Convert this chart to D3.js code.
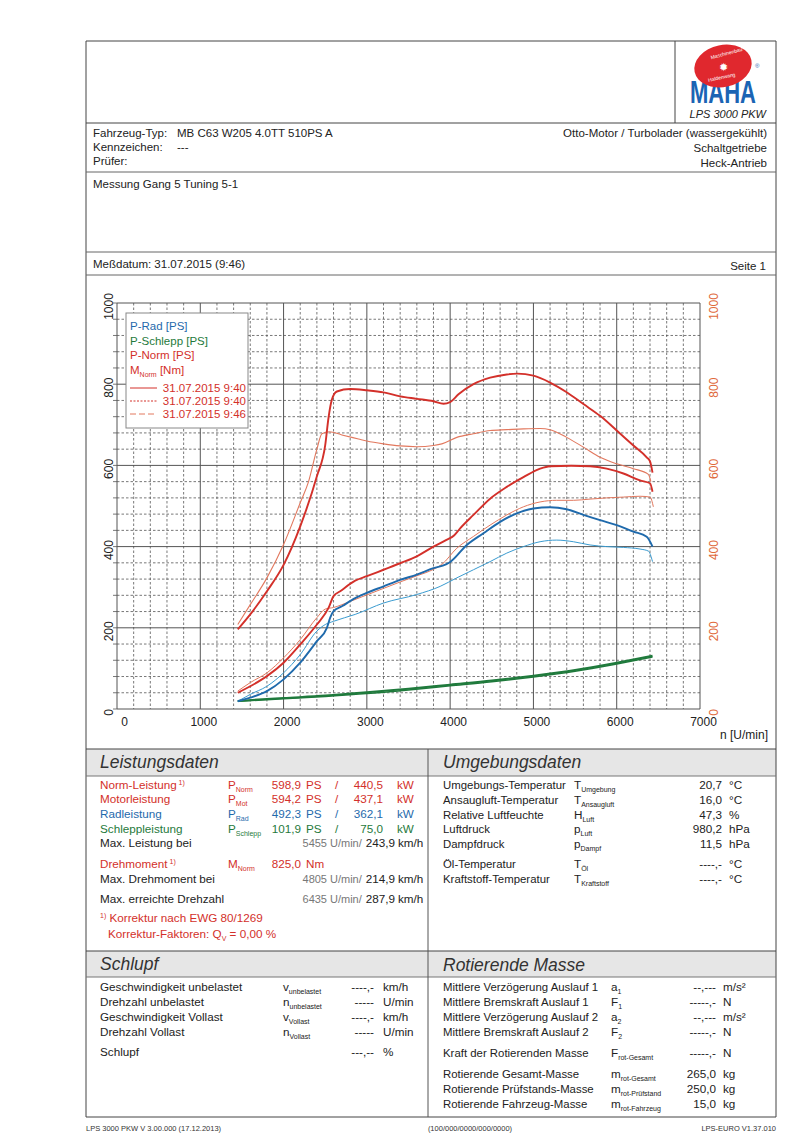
<!DOCTYPE html>
<html><head><meta charset="utf-8">
<script src="https://cdn.jsdelivr.net/npm/d3@7/dist/d3.min.js"></script>
<style>
html,body{margin:0;padding:0;background:#fff;}
svg{display:block;font-family:"Liberation Sans",Arial,sans-serif;}
</style></head>
<body>
<svg id="page" width="800" height="1141"></svg>
<script>
// ---------------- DATA ----------------
const rpmTicks = [0,1000,2000,3000,4000,5000,6000,7000];
const valTicks = [0,200,400,600,800,1000];

// Measurement 1 (solid, thick)
const mNorm1 = [[1450,196],[1600,233],[1800,290],[2000,355],[2200,450],[2400,573],[2500,650],[2540,718],[2580,762],[2640,782],[2800,788],[3000,785],[3200,780],[3400,770],[3600,764],[3800,758],[3920,752],[4000,756],[4100,775],[4280,800],[4480,816],[4680,824],[4805,826],[5000,821],[5200,804],[5400,780],[5600,751],[5800,722],[6000,686],[6200,649],[6360,620],[6400,610],[6430,582]];
const pNorm1 = [[1450,40],[1600,56],[1800,81],[2000,114],[2200,159],[2400,208],[2540,249],[2600,278],[2680,290],[2860,316],[3000,327],[3200,343],[3400,359],[3600,376],[3800,400],[3950,416],[4050,428],[4120,445],[4280,478],[4480,518],[4680,547],[4880,571],[5080,592],[5200,598],[5455,599],[5680,598],[5880,592],[6080,580],[6280,563],[6400,556],[6430,535]];
const pRad1 = [[1450,19],[1600,28],[1800,44],[2000,73],[2200,114],[2400,167],[2520,200],[2560,225],[2600,241],[2700,253],[2860,273],[3000,286],[3200,302],[3400,318],[3600,331],[3800,347],[3950,356],[4000,362],[4200,404],[4400,433],[4600,461],[4800,482],[5000,494],[5200,497],[5400,492],[5600,478],[5800,465],[6000,453],[6200,437],[6360,424],[6430,400]];
const pSchlepp1 = [[1450,20],[2000,27],[2500,33],[3000,41],[3500,50],[4000,60],[4500,70],[5000,82],[5500,96],[6000,114],[6430,131]];

// Measurement 2 (thin, lighter)
const mNorm2 = [[1450,208],[1600,257],[1800,323],[2000,405],[2200,508],[2300,560],[2400,640],[2460,678],[2550,683],[2700,675],[2900,665],[3000,660],[3200,653],[3400,648],[3600,646],[3800,649],[3900,653],[4080,669],[4280,678],[4480,686],[4680,688],[4880,690],[5080,691],[5200,688],[5400,669],[5600,645],[5800,620],[6000,604],[6200,592],[6380,578],[6410,560]];
const pNorm2 = [[1450,44],[1600,65],[1800,89],[2000,126],[2200,171],[2400,225],[2500,246],[2600,250],[2800,265],[3000,281],[3200,297],[3400,313],[3600,328],[3800,344],[3900,356],[4080,396],[4280,425],[4480,453],[4680,478],[4880,498],[5080,510],[5280,514],[5480,514],[5680,517],[5880,520],[6080,522],[6280,524],[6400,522],[6440,498]];
const pRad2 = [[1450,19],[1600,36],[1800,56],[2000,89],[2200,134],[2400,192],[2500,208],[2600,216],[2860,233],[3200,261],[3600,282],[3880,302],[4080,323],[4280,343],[4480,363],[4680,384],[4880,400],[5080,412],[5280,416],[5480,412],[5680,404],[5880,400],[6080,398],[6280,394],[6380,389],[6430,363]];
const pSchlepp2 = [[1450,19],[2000,25],[2500,31],[3000,38],[3500,47],[4000,57],[4500,67],[5000,79],[5500,93],[6000,111],[6430,128]];

const legendNames = ["P-Rad [PS]","P-Schlepp [PS]","P-Norm [PS]","M"];
const legendDates = ["31.07.2015 9:40","31.07.2015 9:40","31.07.2015 9:46"];

// ---------------- DRAW ----------------
const svg = d3.select("#page");
const RED="#d3302a", LRED="#e2785e", BLUE="#1f6aac", LBLUE="#3a9bd0", GREEN="#1f7a3c", GRAY="#777", ORANGE="#e0683a";
const LINE="#444";
const FS=11.7;

function hline(y,x1=86,x2=776,c=LINE,w=1){svg.append("line").attr("x1",x1).attr("x2",x2).attr("y1",y).attr("y2",y).attr("stroke",c).attr("stroke-width",w);}
function vline(x,y1,y2,c=LINE,w=1){svg.append("line").attr("x1",x).attr("x2",x).attr("y1",y1).attr("y2",y2).attr("stroke",c).attr("stroke-width",w);}
function txt(x,y,s,o={}){
  const t=svg.append("text").attr("x",x).attr("y",y).text(s)
   .attr("font-size",o.size||FS).attr("fill",o.color||"#222")
   .attr("text-anchor",o.anchor||"start");
  if(o.italic) t.attr("font-style","italic");
  if(o.weight) t.attr("font-weight",o.weight);
  return t;
}
function sym(x,y,main,sub,color="#222",size=FS){
  const t=svg.append("text").attr("x",x).attr("y",y).attr("font-size",size).attr("fill",color);
  t.append("tspan").text(main);
  if(sub) t.append("tspan").attr("font-size",7).attr("dy",3).text(sub);
  return t;
}

// header bands
svg.append("rect").attr("x",86).attr("y",749).attr("width",690).attr("height",27).attr("fill","#e6e6e6");
svg.append("rect").attr("x",86).attr("y",951).attr("width",690).attr("height",26).attr("fill","#e6e6e6");

// frame
hline(41); vline(86,41,1117); vline(776,41,1117);
vline(675,41,123);
hline(123); hline(172,86,776,"#666"); hline(252,86,776,"#666"); hline(275,86,776,"#666");
hline(749,86,776,"#444",1.2); hline(776,86,776,"#777");
hline(951,86,776,"#444",1.2); hline(977,86,776,"#777");
hline(1117);
vline(428,749,1117,"#555");

// logo
const logo=svg.append("g");
logo.append("text").attr("x",723).attr("y",103).attr("text-anchor","middle")
  .attr("font-size",31).attr("font-weight","bold").attr("fill","#1b64b4")
  .attr("font-family","'Liberation Sans Narrow','Liberation Sans',Arial,sans-serif")
  .attr("textLength",66).attr("lengthAdjust","spacingAndGlyphs").text("MAHA");
logo.append("ellipse").attr("cx",723).attr("cy",66).attr("rx",29).attr("ry",21)
  .attr("transform","rotate(-12,723,66)").attr("fill","#e0282e");
logo.append("text").attr("x",723).attr("y",71).attr("text-anchor","middle").attr("font-size",11).attr("fill","#fff").text("✹");
logo.append("text").attr("x",727).attr("y",55).attr("text-anchor","middle").attr("font-size",5).attr("fill","#fff")
  .attr("transform","rotate(-15,727,55)").text("Maschinenbau");
logo.append("text").attr("x",722).attr("y",79).attr("text-anchor","middle").attr("font-size",5).attr("fill","#fff")
  .attr("transform","rotate(-12,722,79)").text("Haldenwang");
logo.append("text").attr("x",755).attr("y",68).attr("font-size",6).attr("fill","#1b64b4").text("®");
txt(766,118,"LPS 3000 PKW",{size:11,italic:true,anchor:"end"});

// header text
txt(93,137,"Fahrzeug-Typ:",{size:11.5}); txt(177,137,"MB C63 W205 4.0TT 510PS A",{size:11.5});
txt(93,151,"Kennzeichen:",{size:11.5}); txt(177,151,"---",{size:11.5});
txt(93,165,"Prüfer:",{size:11.5});
txt(767,137,"Otto-Motor / Turbolader (wassergekühlt)",{size:11.5,anchor:"end"});
txt(767,152,"Schaltgetriebe",{size:11.5,anchor:"end"});
txt(767,167,"Heck-Antrieb",{size:11.5,anchor:"end"});
txt(93,188,"Messung Gang 5 Tuning 5-1",{size:11.5});
txt(93,268,"Meßdatum: 31.07.2015 (9:46)",{size:11.5});
txt(766,270,"Seite 1",{size:11.5,anchor:"end"});

// ---------------- CHART ----------------
const x=d3.scaleLinear().domain([0,7000]).range([117,700]);
const y=d3.scaleLinear().domain([0,1000]).range([709,303]);
const chart=svg.append("g");

// minor grid
const minorX=d3.range(200,7000,200).filter(v=>v%1000!==0);
const minorY=d3.range(40,1000,40).filter(v=>v%200!==0);
chart.selectAll(".mx").data(minorX).join("line").attr("x1",d=>x(d)).attr("x2",d=>x(d)).attr("y1",y(1000)).attr("y2",y(0))
  .attr("stroke","#555").attr("stroke-width",0.8).attr("stroke-dasharray","2.5,2");
chart.selectAll(".my").data(minorY).join("line").attr("y1",d=>y(d)).attr("y2",d=>y(d)).attr("x1",x(0)).attr("x2",x(7000))
  .attr("stroke","#555").attr("stroke-width",0.8).attr("stroke-dasharray","2.5,2");
// major grid
chart.selectAll(".Mx").data(rpmTicks).join("line").attr("x1",d=>x(d)).attr("x2",d=>x(d)).attr("y1",y(1000)).attr("y2",y(0))
  .attr("stroke","#555").attr("stroke-width",1);
chart.selectAll(".My").data(valTicks).join("line").attr("y1",d=>y(d)).attr("y2",d=>y(d)).attr("x1",x(0)).attr("x2",x(7000))
  .attr("stroke","#555").attr("stroke-width",1);
// left small ticks
chart.selectAll(".lt").data(d3.range(0,1001,40)).join("line").attr("y1",d=>y(d)).attr("y2",d=>y(d)).attr("x1",x(0)-4).attr("x2",x(0))
  .attr("stroke","#555").attr("stroke-width",0.8);

// x axis labels
const xAxis=svg.append("g").attr("transform",`translate(3,${y(0)})`)
  .call(d3.axisBottom(x).tickValues(rpmTicks).tickSize(0).tickPadding(8).tickFormat(d3.format("d")));
xAxis.select(".domain").remove();
xAxis.selectAll("text").attr("font-size",12).attr("fill","#222").attr("font-family","'Liberation Sans',Arial,sans-serif");
xAxis.selectAll(".tick").filter(d=>d===0).select("text").attr("x",4);
txt(768,739,"n [U/min]",{size:12,anchor:"end"});

// left axis labels
const yAxisL=svg.append("g").attr("transform",`translate(${x(0)},0)`)
  .call(d3.axisLeft(y).tickValues(valTicks).tickSize(0).tickFormat(d3.format("d")));
yAxisL.select(".domain").remove();
yAxisL.selectAll("text").attr("x",-3).attr("dy",0).attr("text-anchor","middle")
  .attr("transform","translate(-4,0) rotate(-90)").attr("font-size",12).attr("fill","#222")
  .attr("font-family","'Liberation Sans',Arial,sans-serif");
// right axis labels
const yAxisR=svg.append("g").attr("transform",`translate(${x(7000)},0)`)
  .call(d3.axisRight(y).tickValues(valTicks).tickSize(0).tickFormat(d3.format("d")));
yAxisR.select(".domain").remove();
yAxisR.selectAll("text").attr("x",-3).attr("dy",0).attr("text-anchor","middle")
  .attr("transform","translate(18,0) rotate(-90)").attr("font-size",12).attr("fill",ORANGE)
  .attr("font-family","'Liberation Sans',Arial,sans-serif");

// curves
const line=d3.line().x(d=>x(d[0])).y(d=>y(d[1])).curve(d3.curveMonotoneX);
const series=[
  {d:pSchlepp2,c:GREEN,w:1.5},
  {d:pRad2,c:LBLUE,w:1},
  {d:pNorm2,c:LRED,w:1},
  {d:mNorm2,c:LRED,w:1.1},
  {d:pSchlepp1,c:GREEN,w:2},
  {d:pRad1,c:BLUE,w:1.9},
  {d:pNorm1,c:RED,w:1.9},
  {d:mNorm1,c:RED,w:1.9}
];
chart.selectAll(".curve").data(series).join("path").attr("class","curve")
  .attr("d",s=>line(s.d)).attr("fill","none").attr("stroke",s=>s.c).attr("stroke-width",s=>s.w)
  .attr("stroke-linejoin","round");

// legend
const lg=svg.append("g");
lg.append("rect").attr("x",126).attr("y",313).attr("width",122).attr("height",115).attr("fill","#fff").attr("stroke","#888").attr("stroke-width",1);
const lcols=[BLUE,GREEN,RED,RED];
legendNames.forEach((n,i)=>{
  const t=lg.append("text").attr("x",130).attr("y",330+i*14.7).attr("font-size",11.5).attr("fill",lcols[i]);
  t.append("tspan").text(n);
  if(i===3){t.append("tspan").attr("font-size",7).attr("dy",3).text("Norm");t.append("tspan").attr("dy",-3).text(" [Nm]");}
});
const ldash=[null,"2,1.5","6,3"];
const lcol=[RED,RED,LRED];
legendDates.forEach((d,i)=>{
  const yy=392+i*13;
  lg.append("line").attr("x1",130).attr("x2",157).attr("y1",yy-4).attr("y2",yy-4).attr("stroke",lcol[i]).attr("stroke-width",1)
    .attr("stroke-dasharray",ldash[i]);
  lg.append("text").attr("x",246).attr("y",yy).attr("text-anchor","end").attr("font-size",11.5).attr("fill",RED).text(d);
});

// ---------------- TABLES ----------------
txt(100,768,"Leistungsdaten",{size:17.5,italic:true,color:"#333"});
txt(443,768,"Umgebungsdaten",{size:17.5,italic:true,color:"#333"});
txt(100,970,"Schlupf",{size:17.5,italic:true,color:"#333"});
txt(443,971,"Rotierende Masse",{size:17.5,italic:true,color:"#333"});

function powRow(yc,label,sup,sMain,sSub,ps,kw,col){
  const b=yc+4;
  const t=txt(100,b,label,{color:col});
  if(sup) t.append("tspan").attr("font-size",7).attr("dy",-4).text(" "+sup);
  sym(228,b,sMain,sSub,col);
  txt(301,b,ps,{color:col,anchor:"end"});
  txt(306,b,"PS",{color:col});
  txt(335,b,"/",{color:col});
  txt(383,b,kw,{color:col,anchor:"end"});
  txt(397,b,"kW",{color:col});
}
powRow(785,"Norm-Leistung","1)","P","Norm","598,9","440,5",RED);
powRow(799,"Motorleistung",null,"P","Mot","594,2","437,1",RED);
powRow(814,"Radleistung",null,"P","Rad","492,3","362,1",BLUE);
powRow(829,"Schleppleistung",null,"P","Schlepp","101,9","75,0",GREEN);
function atRow(yc,label,n,v){
  const b=yc+4;
  txt(100,b,label);
  txt(327,b,n,{anchor:"end",color:GRAY,size:11});
  txt(330,b,"U/min/",{color:GRAY,size:11});
  txt(395,b,v,{anchor:"end"});
  txt(398,b,"km/h");
}
atRow(843,"Max. Leistung bei","5455","243,9");
{ const t=txt(100,868,"Drehmoment",{color:RED}); t.append("tspan").attr("font-size",7).attr("dy",-4).text(" 1)");
  sym(228,868,"M","Norm",RED); txt(301,868,"825,0",{anchor:"end",color:RED}); txt(306,868,"Nm",{color:RED}); }
atRow(879,"Max. Drehmoment bei","4805","214,9");
atRow(899,"Max. erreichte Drehzahl","6435","287,9");
{ const t=svg.append("text").attr("x",100).attr("y",922).attr("font-size",FS).attr("fill",RED);
  t.append("tspan").attr("font-size",7).attr("dy",-4).text("1)");
  t.append("tspan").attr("dy",4).text(" Korrektur nach EWG 80/1269"); }
{ const t=svg.append("text").attr("x",108).attr("y",938).attr("font-size",FS).attr("fill",RED);
  t.append("tspan").text("Korrektur-Faktoren: Q");
  t.append("tspan").attr("font-size",7).attr("dy",3).text("V");
  t.append("tspan").attr("dy",-3).text(" =   0,00 %"); }

// Umgebungsdaten
const envRows=[
  [785,"Umgebungs-Temperatur","T","Umgebung","20,7","°C"],
  [800,"Ansaugluft-Temperatur","T","Ansaugluft","16,0","°C"],
  [815,"Relative Luftfeuchte","H","Luft","47,3","%"],
  [829,"Luftdruck","p","Luft","980,2","hPa"],
  [844,"Dampfdruck","p","Dampf","11,5","hPa"],
  [864,"Öl-Temperatur","T","Öl","----,-","°C"],
  [879,"Kraftstoff-Temperatur","T","Kraftstoff","----,-","°C"]
];
envRows.forEach(r=>{const b=r[0]+4; txt(443,b,r[1],{size:11.4}); sym(574,b,r[2],r[3]); txt(722,b,r[4],{anchor:"end"}); txt(729,b,r[5]);});

// Schlupf
const slipRows=[
  [987,"Geschwindigkeit unbelastet","v","unbelastet","----,-","km/h"],
  [1002,"Drehzahl unbelastet","n","unbelastet","-----","U/min"],
  [1017,"Geschwindigkeit Vollast","v","Vollast","----,-","km/h"],
  [1032,"Drehzahl Vollast","n","Vollast","-----","U/min"],
  [1052,"Schlupf","","","---,--","%"]
];
slipRows.forEach(r=>{const b=r[0]+4; txt(100,b,r[1]); if(r[2]) sym(283,b,r[2],r[3]); txt(374,b,r[4],{anchor:"end"}); txt(383,b,r[5]);});

// Rotierende Masse
const rotRows=[
  [987,"Mittlere Verzögerung Auslauf 1","a","1","--,---","m/s²"],
  [1002,"Mittlere Bremskraft Auslauf 1","F","1","-----,-","N"],
  [1017,"Mittlere Verzögerung Auslauf 2","a","2","--,---","m/s²"],
  [1032,"Mittlere Bremskraft Auslauf 2","F","2","-----,-","N"],
  [1053,"Kraft der Rotierenden Masse","F","rot-Gesamt","-----,-","N"],
  [1074,"Rotierende Gesamt-Masse","m","rot-Gesamt","265,0","kg"],
  [1089,"Rotierende Prüfstands-Masse","m","rot-Prüfstand","250,0","kg"],
  [1104,"Rotierende Fahrzeug-Masse","m","rot-Fahrzeug","15,0","kg"]
];
rotRows.forEach(r=>{const b=r[0]+4; txt(443,b,r[1],{size:11.4}); sym(611,b,r[2],r[3]); txt(716,b,r[4],{anchor:"end"}); txt(723,b,r[5]);});

// footer
txt(86,1131,"LPS 3000 PKW V 3.00.000 (17.12.2013)",{size:7.5,color:"#333"});
txt(470,1131,"(100/000/0000/000/0000)",{size:7.5,color:"#333",anchor:"middle"});
txt(776,1131,"LPS-EURO V1.37.010",{size:7.5,color:"#333",anchor:"end"});
</script>
</body></html>
